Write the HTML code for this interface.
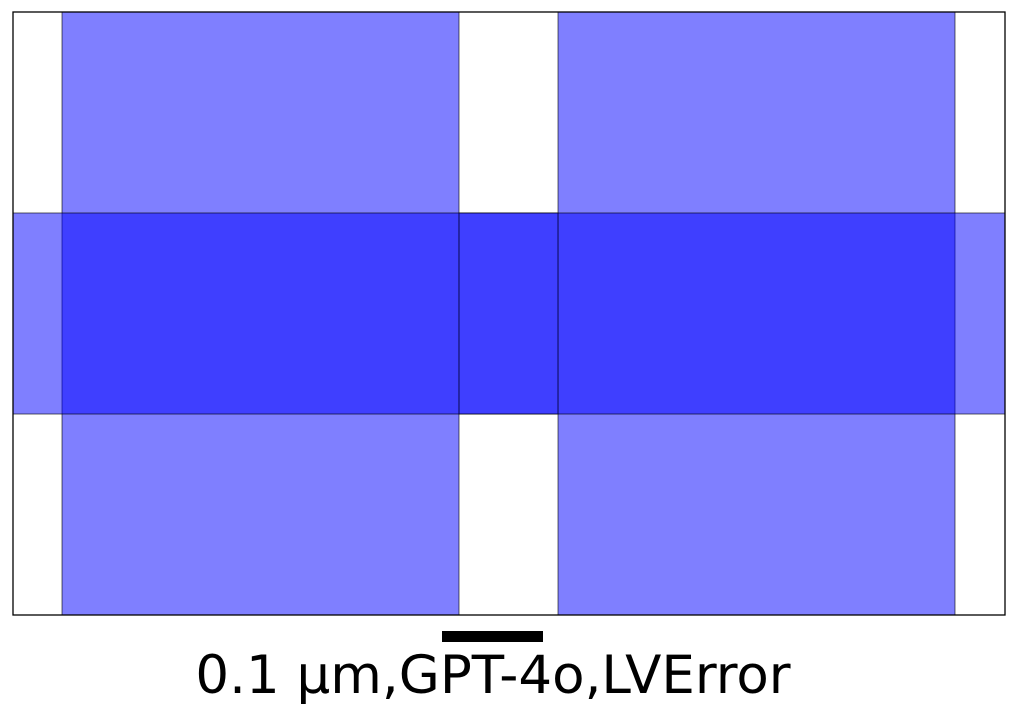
<!DOCTYPE html>
<html><head><meta charset="utf-8"><style>
html,body{margin:0;padding:0;background:#fff;}
svg{display:block;}
</style></head><body>
<svg id="chart" width="1017" height="716" xmlns="http://www.w3.org/2000/svg">
<rect x="13" y="12" width="992" height="603" fill="#fff"/>
<g id="shapes"></g>
<rect x="13" y="12" width="992" height="603" fill="none" stroke="#000" stroke-width="1.3"/>
<rect x="442" y="631" width="101" height="11" fill="#000"/>
<text x="493" y="693" text-anchor="middle" font-family="DejaVu Sans, Liberation Sans, sans-serif" font-size="53" fill="#000">0.1 µm,GPT-4o,LVError</text>
</svg>
<script>
// rectangles in data units: x0, x1, y0, y1 (domain x 0..1, y 0..1)
const rectNames = ['left-column','right-column','middle-row','center-block'];
const rectX0 = [0.0494, 0.5494, 0.0, 0.4496];
const rectX1 = [0.4496, 0.9496, 1.0, 0.5494];
const rectY0 = [0.0, 0.0, 0.3333, 0.3333];
const rectY1 = [1.0, 1.0, 0.6667, 0.6667];
const X = v => 13 + v * 992;
const Y = v => 615 - v * 603;
const g = document.getElementById('shapes');
for (let i = 0; i < rectNames.length; i++) {
  const r = document.createElementNS('http://www.w3.org/2000/svg', 'rect');
  r.setAttribute('x', X(rectX0[i]));
  r.setAttribute('y', Y(rectY1[i]));
  r.setAttribute('width', X(rectX1[i]) - X(rectX0[i]));
  r.setAttribute('height', Y(rectY0[i]) - Y(rectY1[i]));
  r.setAttribute('fill', 'rgba(0,0,255,0.5)');
  r.setAttribute('stroke', 'rgba(0,0,0,0.6)');
  r.setAttribute('stroke-width', '1');
  
  
  g.appendChild(r);
}
</script>
</body></html>
